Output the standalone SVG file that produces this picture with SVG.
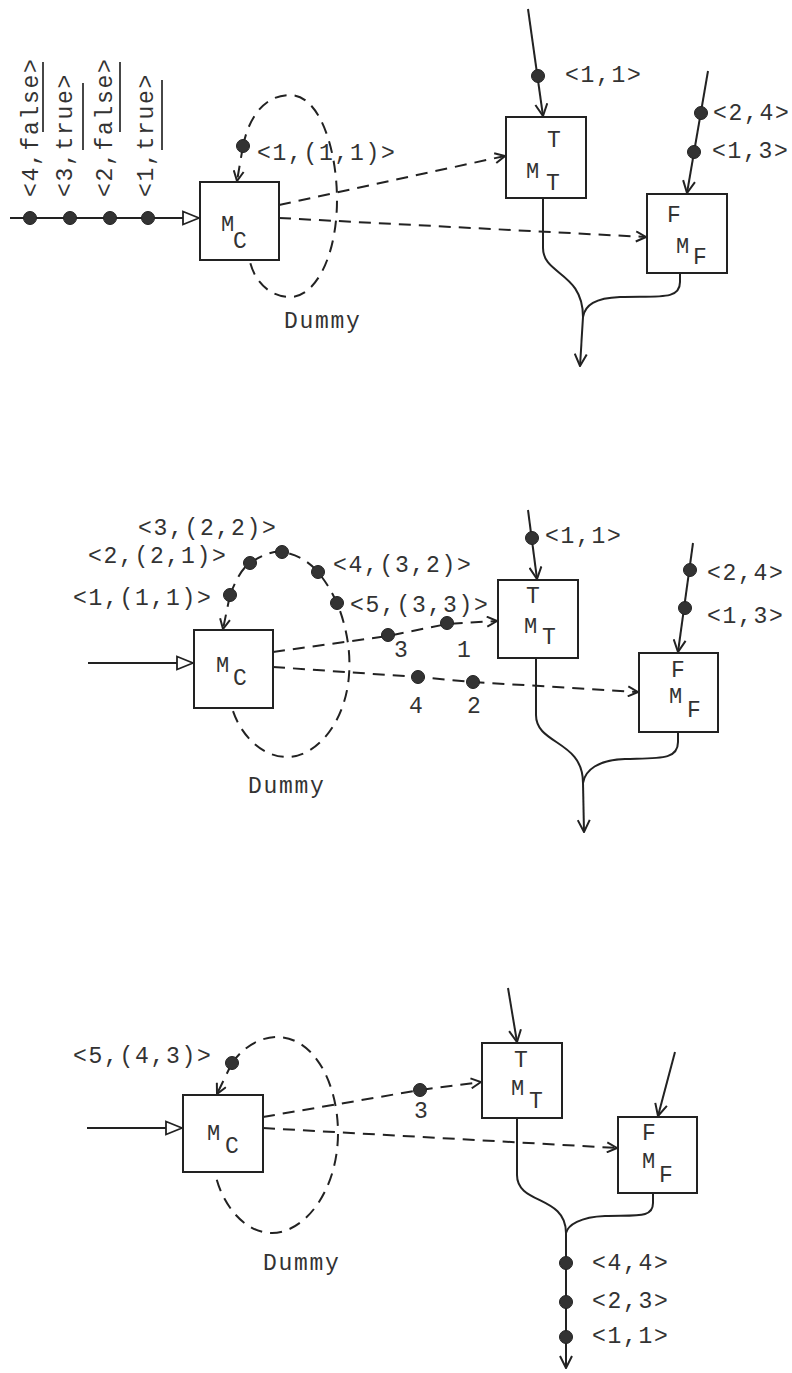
<svg xmlns="http://www.w3.org/2000/svg" width="792" height="1373" viewBox="0 0 792 1373">
<defs>
<style>
.t{font-family:"Liberation Mono","DejaVu Sans Mono",monospace;font-size:23px;letter-spacing:1.7px;fill:#333}
.mm{font-family:"Liberation Mono","DejaVu Sans Mono",monospace;font-size:22px;fill:#333}
.s{font-family:"Liberation Mono","DejaVu Sans Mono",monospace;font-size:23px;fill:#333}
.box{fill:#fff;stroke:#222;stroke-width:2}
.ln{fill:none;stroke:#222;stroke-width:2}
.ds{fill:none;stroke:#222;stroke-width:2;stroke-dasharray:12 8}
.dot{fill:#333;stroke:#222;stroke-width:1}
.ul{stroke:#333;stroke-width:1.8}
</style>
<marker id="v" viewBox="0 0 14 14" refX="13" refY="7" markerWidth="14" markerHeight="14" markerUnits="userSpaceOnUse" orient="auto"><path d="M1,1 L13,7 L1,13" fill="none" stroke="#222" stroke-width="2"/></marker>
<marker id="vs" viewBox="0 0 12 12" refX="11" refY="6" markerWidth="12" markerHeight="12" markerUnits="userSpaceOnUse" orient="auto"><path d="M1,1 L11,6 L1,11" fill="none" stroke="#222" stroke-width="2"/></marker>
<marker id="tri" viewBox="0 0 18 16" refX="17" refY="8" markerWidth="18" markerHeight="16" markerUnits="userSpaceOnUse" orient="auto"><path d="M1,1.5 L17,8 L1,14.5 Z" fill="#fff" stroke="#222" stroke-width="1.8"/></marker>
</defs>
<rect width="792" height="1373" fill="#fff"/>

<!-- ============ PANEL 1 ============ -->
<g id="p1-connectors">
<path class="ln" d="M10 218 L199 218" marker-end="url(#tri)"/>
<path class="ds" d="M243 146 L237 181" marker-end="url(#vs)"/>
<path class="ds" d="M243 146 C250 112, 268 95, 290 95 C320 95, 337 150, 337 200 C337 255, 316 297, 290 297 C270 297, 255 282, 250 262"/>
<path class="ds" d="M279 205 L505 156" marker-end="url(#vs)"/>
<path class="ds" d="M279 218 L646 237" marker-end="url(#vs)"/>
<path class="ln" d="M528 9 L543 116" marker-end="url(#v)"/>
<path class="ln" d="M708 71 L687 193" marker-end="url(#v)"/>
<path class="ln" d="M543 198 L543 248 C543 275, 583 272, 583 317"/>
<path class="ln" d="M680 273 L680 282 C680 300, 660 296, 620 297 C595 298, 585 305, 583 317"/>
<path class="ln" d="M583 317 L580 366" marker-end="url(#v)"/>
</g>
<g id="p1-tokens">
<circle class="dot" cx="30" cy="218" r="6.5"/>
<circle class="dot" cx="70" cy="218" r="6.5"/>
<circle class="dot" cx="110" cy="218" r="6.5"/>
<circle class="dot" cx="148" cy="218" r="6.5"/>
<text class="t" transform="translate(38,197) rotate(-90)">&lt;4,false&gt;</text>
<text class="t" transform="translate(72,197) rotate(-90)">&lt;3,true&gt;</text>
<text class="t" transform="translate(112,197) rotate(-90)">&lt;2,false&gt;</text>
<text class="t" transform="translate(153,197) rotate(-90)">&lt;1,true&gt;</text>
<line class="ul" x1="43" y1="62" x2="43" y2="132"/>
<line class="ul" x1="83" y1="83" x2="83" y2="150"/>
<line class="ul" x1="120" y1="62" x2="120" y2="132"/>
<line class="ul" x1="162" y1="80" x2="162" y2="150"/>
<circle class="dot" cx="243" cy="146" r="6.5"/>
<text class="t" x="257" y="160">&lt;1,(1,1)&gt;</text>
<circle class="dot" cx="538" cy="76" r="6.5"/>
<text class="t" x="565" y="82">&lt;1,1&gt;</text>
<circle class="dot" cx="701" cy="113" r="6.5"/>
<text class="t" x="713" y="120">&lt;2,4&gt;</text>
<circle class="dot" cx="694" cy="152" r="6.5"/>
<text class="t" x="712" y="158">&lt;1,3&gt;</text>
<text class="t" x="284" y="328">Dummy</text>
</g>
<g id="p1-MC">
<rect class="box" x="200" y="182" width="79" height="78"/>
<text class="mm" x="221" y="231">M</text><text class="s" x="233" y="248">C</text>
</g>
<g id="p1-MT">
<rect class="box" x="506" y="117" width="80" height="81"/>
<text class="s" x="547" y="147">T</text>
<text class="mm" x="526" y="178">M</text><text class="s" x="546" y="190">T</text>
</g>
<g id="p1-MF">
<rect class="box" x="647" y="194" width="80" height="79"/>
<text class="s" x="667" y="222">F</text>
<text class="mm" x="676" y="253">M</text><text class="s" x="693" y="264">F</text>
</g>

<!-- ============ PANEL 2 ============ -->
<g id="p2-connectors">
<path class="ln" d="M88 663 L193 663" marker-end="url(#tri)"/>
<path class="ds" d="M230 595 L223 629" marker-end="url(#vs)"/>
<path class="ds" d="M230 595 C236 580, 242 568, 250 563 C262 555, 272 551, 282 552 C298 554, 310 563, 318 572 C326 582, 332 592, 337 603 C346 625, 351 650, 349 675 C346 720, 318 757, 287 757 C262 757, 240 735, 232 708"/>
<path class="ds" d="M273 652 L388 636 L447 624 L497 621" marker-end="url(#vs)"/>
<path class="ds" d="M273 667 L418 677 L473 682 L638 692" marker-end="url(#vs)"/>
<path class="ln" d="M528 510 L537 579" marker-end="url(#v)"/>
<path class="ln" d="M693 543 L678 652" marker-end="url(#v)"/>
<path class="ln" d="M536 658 L536 715 C536 745, 583 740, 583 783"/>
<path class="ln" d="M678 732 L678 742 C678 760, 660 758, 625 759 C598 760, 585 770, 583 783"/>
<path class="ln" d="M583 783 L584 832" marker-end="url(#v)"/>
</g>
<g id="p2-tokens">
<circle class="dot" cx="230" cy="595" r="6.5"/>
<circle class="dot" cx="250" cy="563" r="6.5"/>
<circle class="dot" cx="282" cy="552" r="6.5"/>
<circle class="dot" cx="318" cy="572" r="6.5"/>
<circle class="dot" cx="337" cy="603" r="6.5"/>
<text class="t" x="138" y="535">&lt;3,(2,2)&gt;</text>
<text class="t" x="88" y="563">&lt;2,(2,1)&gt;</text>
<text class="t" x="73" y="605">&lt;1,(1,1)&gt;</text>
<text class="t" x="333" y="572">&lt;4,(3,2)&gt;</text>
<text class="t" x="350" y="612">&lt;5,(3,3)&gt;</text>
<circle class="dot" cx="388" cy="635" r="6.5"/>
<circle class="dot" cx="447" cy="623" r="6.5"/>
<circle class="dot" cx="418" cy="677" r="6.5"/>
<circle class="dot" cx="473" cy="682" r="6.5"/>
<text class="s" x="394" y="657">3</text>
<text class="s" x="457" y="657">1</text>
<text class="s" x="409" y="713">4</text>
<text class="s" x="467" y="713">2</text>
<circle class="dot" cx="532" cy="538" r="6.5"/>
<text class="t" x="545" y="543">&lt;1,1&gt;</text>
<circle class="dot" cx="690" cy="570" r="6.5"/>
<text class="t" x="707" y="580">&lt;2,4&gt;</text>
<circle class="dot" cx="685" cy="608" r="6.5"/>
<text class="t" x="707" y="623">&lt;1,3&gt;</text>
<text class="t" x="248" y="793">Dummy</text>
</g>
<g id="p2-MC">
<rect class="box" x="194" y="630" width="79" height="78"/>
<text class="mm" x="216" y="672">M</text><text class="s" x="233" y="685">C</text>
</g>
<g id="p2-MT">
<rect class="box" x="498" y="580" width="80" height="78"/>
<text class="s" x="526" y="603">T</text>
<text class="mm" x="524" y="633">M</text><text class="s" x="542" y="644">T</text>
</g>
<g id="p2-MF">
<rect class="box" x="639" y="653" width="79" height="79"/>
<text class="s" x="671" y="677">F</text>
<text class="mm" x="669" y="703">M</text><text class="s" x="687" y="717">F</text>
</g>

<!-- ============ PANEL 3 ============ -->
<g id="p3-connectors">
<path class="ln" d="M87 1128 L182 1128" marker-end="url(#tri)"/>
<path class="ds" d="M232 1063 L217 1094" marker-end="url(#vs)"/>
<path class="ds" d="M232 1063 C245 1045, 262 1037, 277 1037 C315 1037, 338 1085, 338 1133 C338 1190, 305 1233, 272 1233 C242 1233, 220 1200, 215 1172"/>
<path class="ds" d="M263 1117 L420 1090 L481 1082" marker-end="url(#vs)"/>
<path class="ds" d="M263 1128 L617 1148" marker-end="url(#vs)"/>
<path class="ln" d="M508 988 L517 1042" marker-end="url(#v)"/>
<path class="ln" d="M675 1052 L658 1116" marker-end="url(#v)"/>
<path class="ln" d="M517 1118 L517 1175 C517 1205, 566 1195, 566 1233"/>
<path class="ln" d="M653 1193 L653 1203 C653 1218, 638 1215, 605 1216 C580 1217, 568 1225, 566 1233"/>
<path class="ln" d="M566 1233 L566 1368" marker-end="url(#v)"/>
</g>
<g id="p3-tokens">
<circle class="dot" cx="232" cy="1063" r="6.5"/>
<text class="t" x="73" y="1063">&lt;5,(4,3)&gt;</text>
<circle class="dot" cx="420" cy="1090" r="6.5"/>
<text class="s" x="414" y="1118">3</text>
<circle class="dot" cx="566" cy="1263" r="6.5"/>
<circle class="dot" cx="566" cy="1302" r="6.5"/>
<circle class="dot" cx="566" cy="1337" r="6.5"/>
<text class="t" x="592" y="1270">&lt;4,4&gt;</text>
<text class="t" x="592" y="1308">&lt;2,3&gt;</text>
<text class="t" x="592" y="1343">&lt;1,1&gt;</text>
<text class="t" x="263" y="1270">Dummy</text>
</g>
<g id="p3-MC">
<rect class="box" x="183" y="1095" width="80" height="77"/>
<text class="mm" x="207" y="1140">M</text><text class="s" x="225" y="1153">C</text>
</g>
<g id="p3-MT">
<rect class="box" x="482" y="1043" width="80" height="75"/>
<text class="s" x="514" y="1067">T</text>
<text class="mm" x="511" y="1095">M</text><text class="s" x="529" y="1108">T</text>
</g>
<g id="p3-MF">
<rect class="box" x="618" y="1117" width="79" height="76"/>
<text class="s" x="642" y="1140">F</text>
<text class="mm" x="642" y="1168">M</text><text class="s" x="659" y="1182">F</text>
</g>
</svg>
